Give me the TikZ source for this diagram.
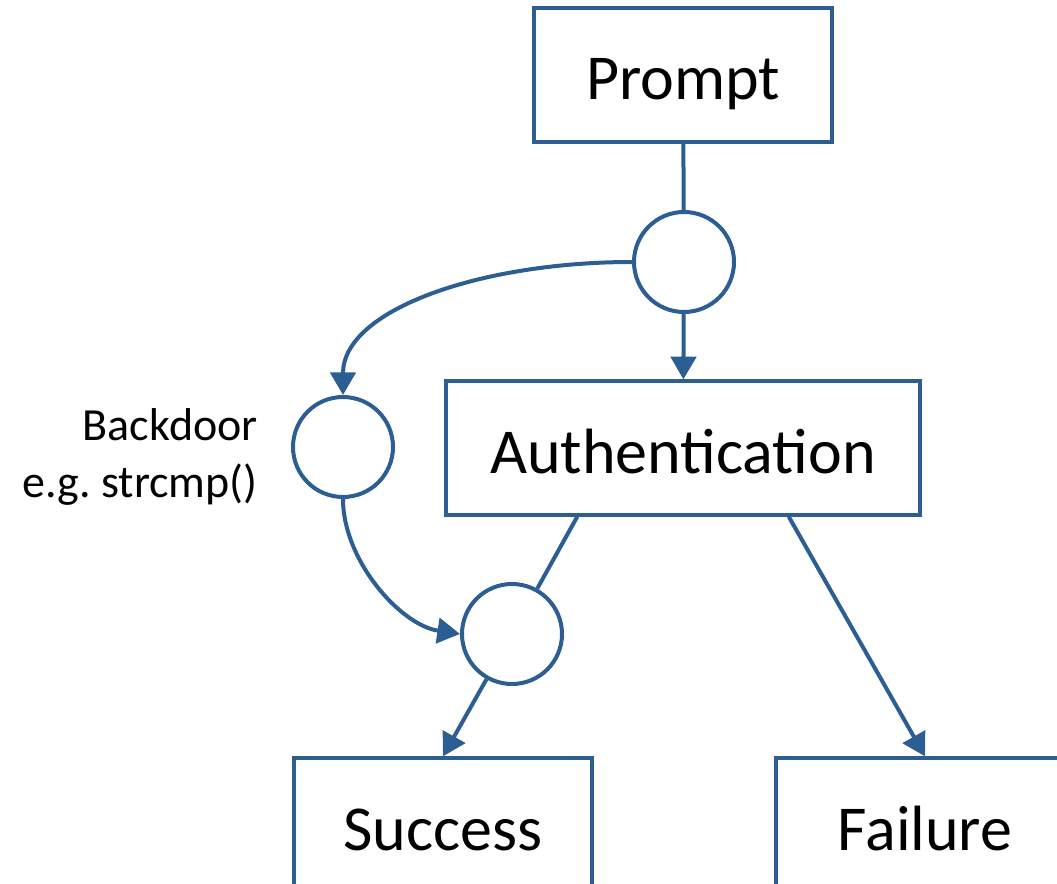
\documentclass[tikz,border=0pt]{standalone}
\usepackage{fontspec}
\setmainfont{Carlito}
\usepackage{xcolor}
\usepackage{tikz}
\usetikzlibrary{arrows.meta}

\definecolor{flowblue}{HTML}{2C5D93}

\tikzset{
	box/.style={draw=flowblue, line width=3pt, fill=white, inner sep=0pt,
		minimum width=223.5pt, minimum height=100pt,
		text height=37.5pt, text depth=0pt, font=\fontsize{48}{58}\selectfont},
	junction/.style={circle, draw=flowblue, line width=3pt, fill=white,
		minimum size=75pt, inner sep=0pt},
	flow/.style={color=flowblue, line width=3pt,
		-{Triangle[length=17pt,width=19pt]}},
}

\begin{document}
\begin{tikzpicture}[x=0.75pt,y=-0.75pt]
		\useasboundingbox (0,0) rectangle (1057,884);
		\clip (0,0) rectangle (1057,884);
		%
		\node[box] (prompt) at (683,75) {Prompt};
		\node[junction] (fork) at (684,262) {};
		\node[box,minimum width=355pt] (auth) at (683,448) {Authentication};
		\node[junction] (bypass) at (343,447) {};
		\node[junction] (merge) at (512,634) {};
		\node[box] (success) at (443,825) {Success};
		\node[box] (failure) at (925,825) {Failure};
		%
		\node[anchor=east,align=right,inner sep=0pt,
			font=\fontsize{34.5}{42.75}\selectfont] (bdnote) at (258,457)
			{Backdoor\\e.g.\ strcmp()};
		%
		\path[flow]
			(prompt) edge[-] (fork)
			(fork) edge (auth)
			(fork.west) edge[controls={(480,262) and (343,310)}] (bypass.north)
			(bypass.south) edge[controls={(343,560) and (400,625)}] (merge.west)
			(auth.213) edge[-] (merge)
			(merge) edge (success.north)
			(auth.327) edge (failure.north);
	\end{tikzpicture}
\end{document}
